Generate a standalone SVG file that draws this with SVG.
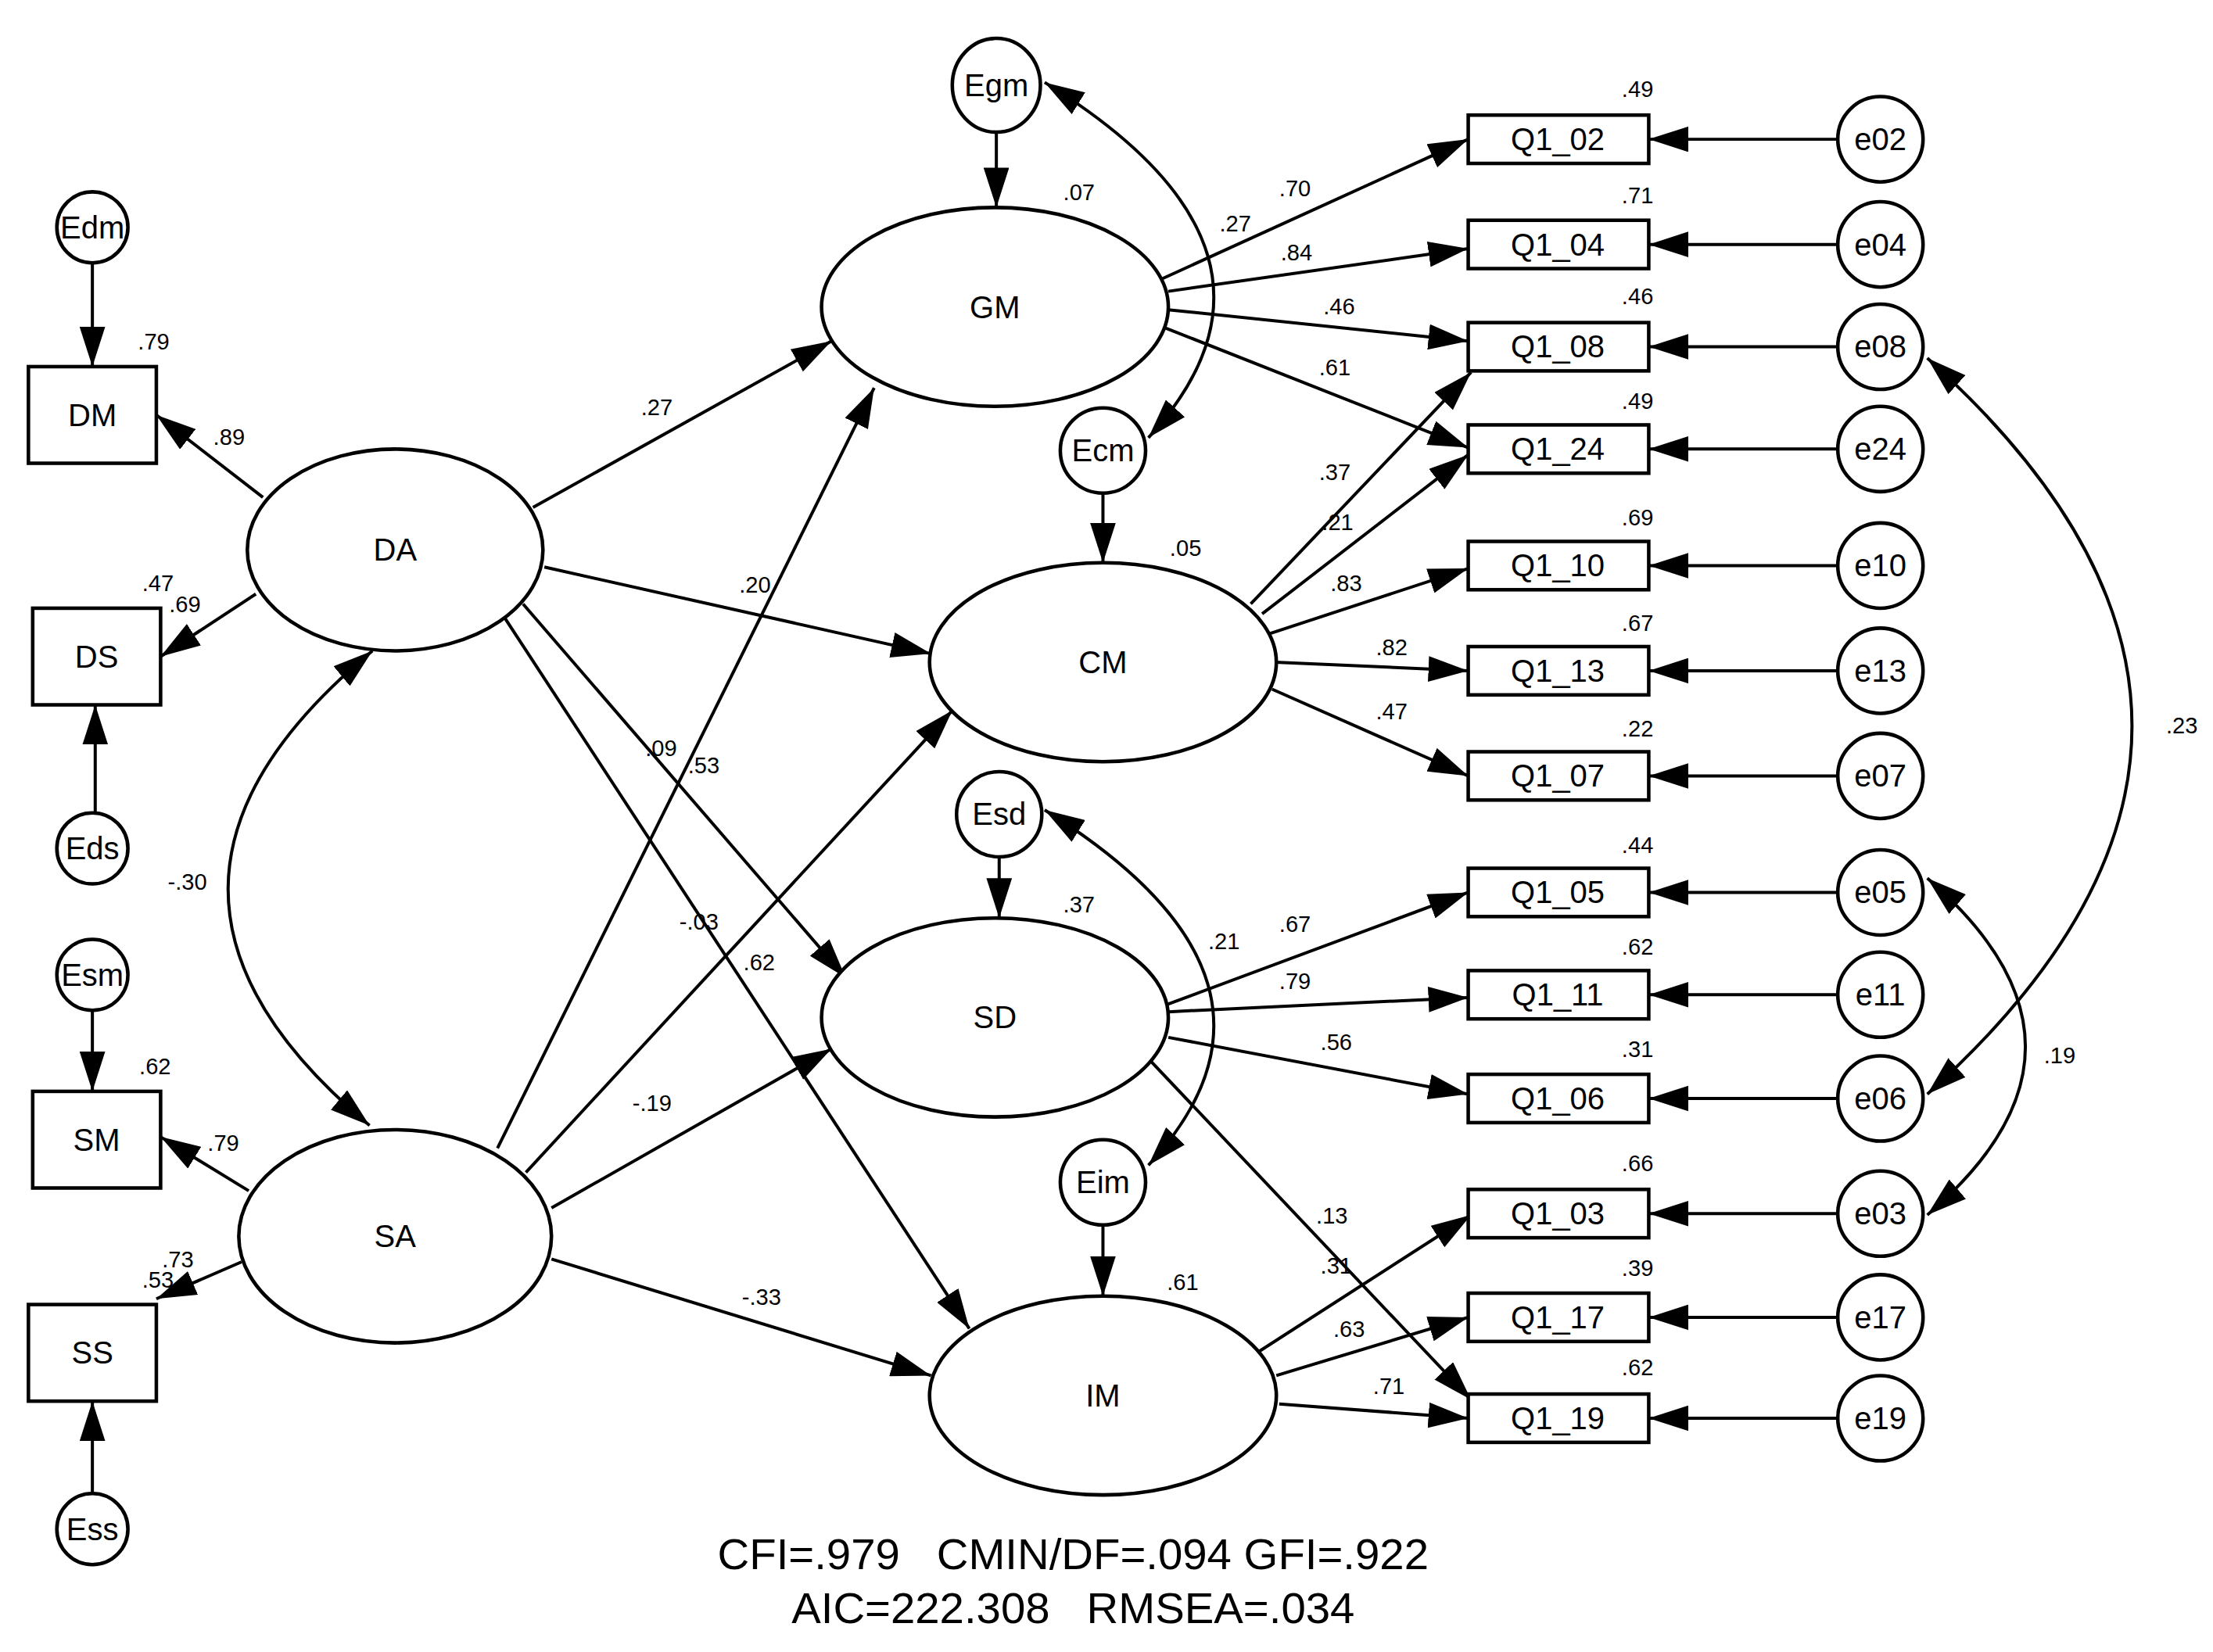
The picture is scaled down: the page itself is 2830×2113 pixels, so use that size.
<svg xmlns="http://www.w3.org/2000/svg" width="2830" height="2113" viewBox="0 0 2830 2113">
<style>
.n{fill:#fff;stroke:#000;stroke-width:2.5}
.c path,.c line{fill:none;stroke:#000;stroke-width:2.2}
text{font-family:"Liberation Sans",Arial,sans-serif;fill:#000}
.l{font-size:22px;text-anchor:middle;dominant-baseline:central}
.s{font-size:16px}
.f{font-size:31px;text-anchor:middle}
</style>
<defs>
<marker id="a" markerUnits="userSpaceOnUse" markerWidth="30" markerHeight="18" refX="28" refY="9" orient="auto"><path d="M0,0L28,9L0,18Z" fill="#000"/></marker>
<marker id="b" markerUnits="userSpaceOnUse" markerWidth="30" markerHeight="18" refX="2" refY="9" orient="auto"><path d="M30,0L2,9L30,18Z" fill="#000"/></marker>
</defs>
<rect width="2830" height="2113" fill="#fff"/>
<g transform="scale(1.8176)">
<g class="c">
<line x1="701" y1="93" x2="701" y2="146" marker-end="url(#a)"/>
<line x1="65" y1="185" x2="65" y2="258" marker-end="url(#a)"/>
<line x1="67" y1="572" x2="67" y2="496" marker-end="url(#a)"/>
<line x1="65" y1="711" x2="65" y2="768" marker-end="url(#a)"/>
<line x1="65" y1="1051" x2="65" y2="986" marker-end="url(#a)"/>
<line x1="776" y1="347" x2="776" y2="396" marker-end="url(#a)"/>
<line x1="703" y1="603" x2="703" y2="646" marker-end="url(#a)"/>
<line x1="776" y1="862" x2="776" y2="912" marker-end="url(#a)"/>
<line x1="185" y1="350" x2="110" y2="292" marker-end="url(#a)"/>
<line x1="180" y1="418" x2="113" y2="462" marker-end="url(#a)"/>
<line x1="175" y1="838" x2="113" y2="800" marker-end="url(#a)"/>
<line x1="170" y1="888" x2="110" y2="914" marker-end="url(#a)"/>
<line x1="375" y1="357" x2="585" y2="240" marker-end="url(#a)"/>
<line x1="350" y1="808" x2="615" y2="273" marker-end="url(#a)"/>
<line x1="383" y1="399" x2="655" y2="460" marker-end="url(#a)"/>
<line x1="370" y1="825" x2="670" y2="500" marker-end="url(#a)"/>
<line x1="368" y1="425" x2="595" y2="688" marker-end="url(#a)"/>
<line x1="352" y1="430" x2="682" y2="935" marker-end="url(#a)"/>
<line x1="388" y1="850" x2="585" y2="738" marker-end="url(#a)"/>
<line x1="388" y1="886" x2="655" y2="968" marker-end="url(#a)"/>
<line x1="808" y1="745" x2="1035" y2="985" marker-end="url(#a)"/>
<line x1="818" y1="196" x2="1033" y2="98" marker-end="url(#a)"/>
<line x1="822" y1="205" x2="1033" y2="175" marker-end="url(#a)"/>
<line x1="822" y1="218" x2="1033" y2="240" marker-end="url(#a)"/>
<line x1="818" y1="230" x2="1033" y2="315" marker-end="url(#a)"/>
<line x1="880" y1="425" x2="1035" y2="262" marker-end="url(#a)"/>
<line x1="888" y1="432" x2="1033" y2="320" marker-end="url(#a)"/>
<line x1="893" y1="446" x2="1033" y2="400" marker-end="url(#a)"/>
<line x1="897" y1="466" x2="1033" y2="472" marker-end="url(#a)"/>
<line x1="895" y1="485" x2="1033" y2="546" marker-end="url(#a)"/>
<line x1="818" y1="708" x2="1033" y2="628" marker-end="url(#a)"/>
<line x1="822" y1="712" x2="1033" y2="702" marker-end="url(#a)"/>
<line x1="822" y1="730" x2="1033" y2="770" marker-end="url(#a)"/>
<line x1="875" y1="958" x2="1035" y2="855" marker-end="url(#a)"/>
<line x1="898" y1="968" x2="1033" y2="927" marker-end="url(#a)"/>
<line x1="900" y1="988" x2="1033" y2="998" marker-end="url(#a)"/>
<line x1="1293" y1="98" x2="1160" y2="98" marker-end="url(#a)"/>
<line x1="1293" y1="172" x2="1160" y2="172" marker-end="url(#a)"/>
<line x1="1293" y1="244" x2="1160" y2="244" marker-end="url(#a)"/>
<line x1="1293" y1="316" x2="1160" y2="316" marker-end="url(#a)"/>
<line x1="1293" y1="398" x2="1160" y2="398" marker-end="url(#a)"/>
<line x1="1293" y1="472" x2="1160" y2="472" marker-end="url(#a)"/>
<line x1="1293" y1="546" x2="1160" y2="546" marker-end="url(#a)"/>
<line x1="1293" y1="628" x2="1160" y2="628" marker-end="url(#a)"/>
<line x1="1293" y1="700" x2="1160" y2="700" marker-end="url(#a)"/>
<line x1="1293" y1="773" x2="1160" y2="773" marker-end="url(#a)"/>
<line x1="1293" y1="854" x2="1160" y2="854" marker-end="url(#a)"/>
<line x1="1293" y1="927" x2="1160" y2="927" marker-end="url(#a)"/>
<line x1="1293" y1="998" x2="1160" y2="998" marker-end="url(#a)"/>
<path d="M262,458 Q60,625 260,792" marker-start="url(#b)" marker-end="url(#a)"/>
<path d="M735,58 Q928,177 808,308" marker-start="url(#b)" marker-end="url(#a)"/>
<path d="M735,570 Q928,690 808,820" marker-start="url(#b)" marker-end="url(#a)"/>
<path d="M1356,252 Q1644,511 1356,770" marker-start="url(#b)" marker-end="url(#a)"/>
<path d="M1356,618 Q1494,737 1356,855" marker-start="url(#b)" marker-end="url(#a)"/>
</g>
<g id="Egm"><ellipse class="n" cx="701" cy="60" rx="31" ry="33"/><text class="l" x="701" y="60">Egm</text></g>
<g id="Edm"><ellipse class="n" cx="65" cy="160" rx="25" ry="25"/><text class="l" x="65" y="160">Edm</text></g>
<g id="Eds"><ellipse class="n" cx="65" cy="597" rx="25" ry="25"/><text class="l" x="65" y="597">Eds</text></g>
<g id="Esm"><ellipse class="n" cx="65" cy="686" rx="25" ry="25"/><text class="l" x="65" y="686">Esm</text></g>
<g id="Ess"><ellipse class="n" cx="65" cy="1076" rx="25" ry="25"/><text class="l" x="65" y="1076">Ess</text></g>
<g id="DM"><rect class="n" x="20" y="258" width="90" height="68"/><text class="l" x="65" y="292">DM</text></g>
<g id="DS"><rect class="n" x="23" y="428" width="90" height="68"/><text class="l" x="68" y="462">DS</text></g>
<g id="SM"><rect class="n" x="23" y="768" width="90" height="68"/><text class="l" x="68" y="802">SM</text></g>
<g id="SS"><rect class="n" x="20" y="918" width="90" height="68"/><text class="l" x="65" y="952">SS</text></g>
<g id="DA"><ellipse class="n" cx="278" cy="387" rx="104" ry="71"/><text class="l" x="278" y="387">DA</text></g>
<g id="SA"><ellipse class="n" cx="278" cy="870" rx="110" ry="75"/><text class="l" x="278" y="870">SA</text></g>
<g id="GM"><ellipse class="n" cx="700" cy="216" rx="122" ry="70"/><text class="l" x="700" y="216">GM</text></g>
<g id="Ecm"><ellipse class="n" cx="776" cy="317" rx="30" ry="30"/><text class="l" x="776" y="317">Ecm</text></g>
<g id="CM"><ellipse class="n" cx="776" cy="466" rx="122" ry="70"/><text class="l" x="776" y="466">CM</text></g>
<g id="Esd"><ellipse class="n" cx="703" cy="573" rx="30" ry="30"/><text class="l" x="703" y="573">Esd</text></g>
<g id="SD"><ellipse class="n" cx="700" cy="716" rx="122" ry="70"/><text class="l" x="700" y="716">SD</text></g>
<g id="Eim"><ellipse class="n" cx="776" cy="832" rx="30" ry="30"/><text class="l" x="776" y="832">Eim</text></g>
<g id="IM"><ellipse class="n" cx="776" cy="982" rx="122" ry="70"/><text class="l" x="776" y="982">IM</text></g>
<g id="Q1_02"><rect class="n" x="1033" y="81" width="127" height="34"/><text class="l" x="1096" y="98">Q1_02</text></g>
<g id="Q1_04"><rect class="n" x="1033" y="155" width="127" height="34"/><text class="l" x="1096" y="172">Q1_04</text></g>
<g id="Q1_08"><rect class="n" x="1033" y="227" width="127" height="34"/><text class="l" x="1096" y="244">Q1_08</text></g>
<g id="Q1_24"><rect class="n" x="1033" y="299" width="127" height="34"/><text class="l" x="1096" y="316">Q1_24</text></g>
<g id="Q1_10"><rect class="n" x="1033" y="381" width="127" height="34"/><text class="l" x="1096" y="398">Q1_10</text></g>
<g id="Q1_13"><rect class="n" x="1033" y="455" width="127" height="34"/><text class="l" x="1096" y="472">Q1_13</text></g>
<g id="Q1_07"><rect class="n" x="1033" y="529" width="127" height="34"/><text class="l" x="1096" y="546">Q1_07</text></g>
<g id="Q1_05"><rect class="n" x="1033" y="611" width="127" height="34"/><text class="l" x="1096" y="628">Q1_05</text></g>
<g id="Q1_11"><rect class="n" x="1033" y="683" width="127" height="34"/><text class="l" x="1096" y="700">Q1_11</text></g>
<g id="Q1_06"><rect class="n" x="1033" y="756" width="127" height="34"/><text class="l" x="1096" y="773">Q1_06</text></g>
<g id="Q1_03"><rect class="n" x="1033" y="837" width="127" height="34"/><text class="l" x="1096" y="854">Q1_03</text></g>
<g id="Q1_17"><rect class="n" x="1033" y="910" width="127" height="34"/><text class="l" x="1096" y="927">Q1_17</text></g>
<g id="Q1_19"><rect class="n" x="1033" y="981" width="127" height="34"/><text class="l" x="1096" y="998">Q1_19</text></g>
<g id="e02"><circle class="n" cx="1323" cy="98" r="30"/><text class="l" x="1323" y="98">e02</text></g>
<g id="e04"><circle class="n" cx="1323" cy="172" r="30"/><text class="l" x="1323" y="172">e04</text></g>
<g id="e08"><circle class="n" cx="1323" cy="244" r="30"/><text class="l" x="1323" y="244">e08</text></g>
<g id="e24"><circle class="n" cx="1323" cy="316" r="30"/><text class="l" x="1323" y="316">e24</text></g>
<g id="e10"><circle class="n" cx="1323" cy="398" r="30"/><text class="l" x="1323" y="398">e10</text></g>
<g id="e13"><circle class="n" cx="1323" cy="472" r="30"/><text class="l" x="1323" y="472">e13</text></g>
<g id="e07"><circle class="n" cx="1323" cy="546" r="30"/><text class="l" x="1323" y="546">e07</text></g>
<g id="e05"><circle class="n" cx="1323" cy="628" r="30"/><text class="l" x="1323" y="628">e05</text></g>
<g id="e11"><circle class="n" cx="1323" cy="700" r="30"/><text class="l" x="1323" y="700">e11</text></g>
<g id="e06"><circle class="n" cx="1323" cy="773" r="30"/><text class="l" x="1323" y="773">e06</text></g>
<g id="e03"><circle class="n" cx="1323" cy="854" r="30"/><text class="l" x="1323" y="854">e03</text></g>
<g id="e17"><circle class="n" cx="1323" cy="927" r="30"/><text class="l" x="1323" y="927">e17</text></g>
<g id="e19"><circle class="n" cx="1323" cy="998" r="30"/><text class="l" x="1323" y="998">e19</text></g>
<g class="s">
<text x="97" y="246">.79</text><text x="150" y="313">.89</text><text x="100" y="416">.47</text><text x="119" y="431">.69</text>
<text x="100" y="906">.53</text><text x="114" y="892">.73</text><text x="98" y="756">.62</text><text x="146" y="810">.79</text>
<text x="451" y="292">.27</text><text x="520" y="417">.20</text><text x="454" y="532">.09</text><text x="484" y="544">.53</text>
<text x="118" y="626">-.30</text><text x="478" y="654">-.03</text><text x="523" y="683">.62</text><text x="445" y="782">-.19</text><text x="522" y="918">-.33</text>
<text x="748" y="141">.07</text><text x="823" y="391">.05</text><text x="748" y="642">.37</text><text x="821" y="908">.61</text>
<text x="858" y="163">.27</text><text x="850" y="668">.21</text>
<text x="900" y="138">.70</text><text x="901" y="183">.84</text><text x="931" y="221">.46</text><text x="928" y="264">.61</text>
<text x="928" y="338">.37</text><text x="930" y="373">.21</text><text x="936" y="416">.83</text><text x="968" y="461">.82</text><text x="968" y="506">.47</text>
<text x="900" y="656">.67</text><text x="900" y="696">.79</text><text x="929" y="739">.56</text>
<text x="926" y="861">.13</text><text x="929" y="896">.31</text><text x="938" y="941">.63</text><text x="966" y="981">.71</text>
<text x="1524" y="516">.23</text><text x="1438" y="748">.19</text>
<text x="1141" y="68">.49</text><text x="1141" y="143">.71</text><text x="1141" y="214">.46</text><text x="1141" y="288">.49</text>
<text x="1141" y="370">.69</text><text x="1141" y="444">.67</text><text x="1141" y="518">.22</text><text x="1141" y="600">.44</text>
<text x="1141" y="672">.62</text><text x="1141" y="744">.31</text><text x="1141" y="824">.66</text><text x="1141" y="898">.39</text><text x="1141" y="968">.62</text>
</g>
<text class="f" x="755" y="1104" xml:space="preserve">CFI=.979   CMIN/DF=.094 GFI=.922</text>
<text class="f" x="755" y="1142" xml:space="preserve">AIC=222.308   RMSEA=.034</text>
</g>
</svg>
